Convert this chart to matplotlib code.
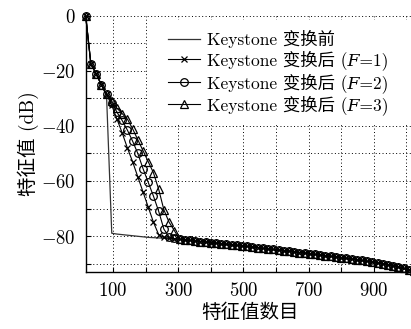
import numpy as np
import matplotlib
matplotlib.use("Agg")
import matplotlib.pyplot as plt
from matplotlib.patches import Rectangle

plt.rcParams['mathtext.fontset'] = 'cm'
plt.rcParams['axes.unicode_minus'] = False

# eigenvalue index (every 16th)
idx = np.arange(16, 1025, 16)

# first part of each curve, index 16..288
before_head = [0, -17.5, -21, -25, -29, -79, -79.3, -79.5, -79.7, -79.9,
               -80.1, -80.3, -80.5, -80.6, -80.7, -80.8, -80.9, -81.0]
f1_head = [0, -17.5, -21, -25, -28.5, -32.5, -37.5, -42.5, -48, -53,
           -58.5, -64, -69.5, -75, -79.5, -80.5, -80.8, -81.0]
f2_head = [0, -17.5, -21, -25, -28.5, -31.5, -35, -38, -41.5, -45.5,
           -50, -55.5, -60.5, -65.5, -71, -77.5, -80.3, -80.9]
f3_head = [0, -17.5, -21, -25, -28.5, -31, -33.5, -35.5, -37.5, -41,
           -45, -49, -53, -57, -63, -70.5, -75, -78]

# common tail, index 304..1024
tail = [-81.2, -81.4, -81.6, -81.8, -82.0, -82.2, -82.4, -82.6, -82.8, -83.0,
        -83.2, -83.4, -83.6, -83.8, -84.0, -84.2, -84.5, -84.7, -84.9, -85.1,
        -85.3, -85.5, -85.8, -86.0, -86.2, -86.5, -86.7, -86.9, -87.2, -87.4,
        -87.6, -87.9, -88.1, -88.4, -88.6, -88.9, -89.2, -89.5, -89.8, -90.1,
        -90.5, -90.9, -91.3, -91.8, -92.3, -92.9]

labels = ['Keystone 变换前',
          'Keystone 变换后 (\U0001D439=1)',
          'Keystone 变换后 (\U0001D439=2)',
          'Keystone 变换后 (\U0001D439=3)']

xticks = [100, 200, 300, 400, 500, 600, 700, 800, 900, 1000]
xticklabels = ['$100$', '', '$300$', '', '$500$', '', '$700$', '', '$900$', '']
yticks = [0, -10, -20, -30, -40, -50, -60, -70, -80, -90]
yticklabels = ['$0$', '', '$-20$', '', '$-40$', '', '$-60$', '', '$-80$', '']

fams = ['cmr10', 'Noto Sans CJK SC', 'DejaVu Serif', 'DejaVu Sans']

fig = plt.figure(figsize=(4.11, 3.29), dpi=100)
ax = fig.add_axes([0.2085, 0.174, 0.799, 0.7774])

ax.plot(idx, before_head + tail, '-', color='#333333', lw=0.9,
        label=labels[0], clip_on=False, zorder=3)
ax.plot(idx, f1_head + tail, '-x', color='black', lw=0.8, ms=5,
        mew=0.9, label=labels[1], clip_on=False, zorder=3)
ax.plot(idx, f2_head + tail, '-o', color='black', lw=0.8, ms=5.5,
        mfc='none', mew=0.9, label=labels[2], clip_on=False, zorder=3)
ax.plot(idx, f3_head + tail, '-^', color='black', lw=0.8, ms=5.5,
        mfc='none', mew=0.9, label=labels[3], clip_on=False, zorder=3)

ax.set_xlim(16, 1024)
ax.set_ylim(-93, 0)
ax.set_xticks(xticks)
ax.set_xticklabels(xticklabels, fontsize=13.5)
ax.set_yticks(yticks)
ax.set_yticklabels(yticklabels, fontsize=13.5)
ax.tick_params(direction='in', length=3.5, width=0.8, pad=7)

ax.grid(True, linestyle=(0, (1, 2.5)), color='black', lw=0.7)
ax.spines['top'].set_visible(False)
ax.spines['right'].set_visible(False)
ax.spines['left'].set_linewidth(1.0)
ax.spines['bottom'].set_linewidth(1.0)

# white box behind the legend hides the grid there
ax.add_patch(Rectangle((0.187, 0.574), 0.82, 0.41, transform=ax.transAxes,
                       facecolor='white', edgecolor='none', zorder=2))

ax.set_xlabel('特征值数目', family=fams, fontsize=14, labelpad=2)
ax.set_ylabel('特征值 (dB)', family=fams, fontsize=14, labelpad=2)

leg = ax.legend(loc='upper left', bbox_to_anchor=(0.225, 0.98),
                frameon=False, handlelength=1.8,
                handletextpad=0.45, labelspacing=0.15, borderpad=0,
                prop={'family': fams, 'size': 12.5})
leg.set_zorder(4)

fig.savefig('out.png', dpi=100)
